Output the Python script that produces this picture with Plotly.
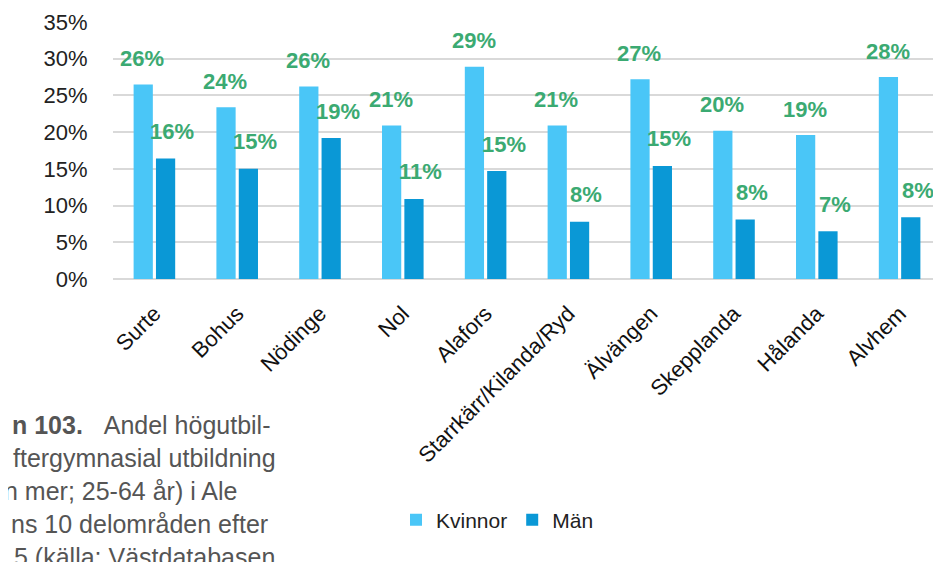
import plotly.graph_objects as go

categories = ["Surte", "Bohus", "Nödinge", "Nol", "Alafors", "Starrkärr/Kilanda/Ryd",
              "Älvängen", "Skepplanda", "Hålanda", "Alvhem"]
kvinnor = [0.265, 0.234, 0.262, 0.209, 0.289, 0.209, 0.272, 0.202, 0.196, 0.275]
man = [0.164, 0.150, 0.192, 0.109, 0.147, 0.078, 0.154, 0.081, 0.065, 0.084]
kvinnor_labels = ["26%", "24%", "26%", "21%", "29%", "21%", "27%", "20%", "19%", "28%"]
man_labels = ["16%", "15%", "19%", "11%", "15%", "8%", "15%", "8%", "7%", "8%"]
caption_lines = [
    "<b>n 103.</b>\u00a0\u00a0\u00a0Andel högutbil-",
    "ftergymnasial utbildning",
    "n mer; 25-64 år) i Ale",
    "ns 10 delområden efter",
    "5 (källa: Västdatabasen",
]

OFF = 8  # default page body margin
W, H = 941 - OFF, 562 - OFF
L, R, T, B = 113 - OFF, 0, 22 - OFF, 283
FONT = "Liberation Sans, Arial, sans-serif"
C_K = "#4AC6F7"
C_M = "#0A98D6"
C_LBL = "#3BAA72"

fig = go.Figure()
fig.add_trace(go.Bar(name="Kvinnor", x=categories, y=kvinnor, marker_color=C_K,
                     marker_line_width=0, hoverinfo="skip"))
fig.add_trace(go.Bar(name="Män", x=categories, y=man, marker_color=C_M,
                     marker_line_width=0, hoverinfo="skip"))

annotations = []
for c, v, t in zip(categories, kvinnor, kvinnor_labels):
    annotations.append(dict(x=c, y=v, text=t, showarrow=False, xshift=-12, yshift=26,
                            yanchor="middle", xanchor="center",
                            font=dict(family=FONT, size=22, color=C_LBL, weight="bold")))
for c, v, t in zip(categories, man, man_labels):
    annotations.append(dict(x=c, y=v, text=t, showarrow=False, xshift=18, yshift=27,
                            yanchor="middle", xanchor="center",
                            font=dict(family=FONT, size=22, color=C_LBL, weight="bold")))

pw = W - L - R
ph = H - T - B
caption_y = [425, 458, 491, 524, 557]
caption_x = [12, 13, 4, 11, 14]
for line, yy, xx in zip(caption_lines, caption_y, caption_x):
    fx = xx - OFF - 2
    fy = yy - OFF
    annotations.append(dict(xref="paper", yref="paper",
                            x=(fx - L) / pw, y=1 - (fy - T) / ph,
                            text=line, showarrow=False, xanchor="left", yanchor="middle",
                            font=dict(family=FONT, size=25, color="#555555")))

fig.update_layout(
    width=W, height=H,
    margin=dict(l=L, r=R, t=T, b=B),
    paper_bgcolor="white", plot_bgcolor="white",
    barmode="group", bargap=0.46, bargroupgap=0.14,
    font=dict(family=FONT, color="#222222"),
    showlegend=True,
    legend=dict(orientation="h", xref="container", yref="container",
                x=(396 - OFF) / W, y=1 - (520 - OFF) / H, xanchor="left", yanchor="middle",
                font=dict(family=FONT, size=21, color="#222222"),
                itemwidth=30, tracegroupgap=0, bgcolor="rgba(0,0,0,0)"),
    annotations=annotations,
)
fig.update_yaxes(range=[0, 0.35], dtick=0.05, tickformat=".0%",
                 showgrid=True, gridcolor="#D9D9D9", gridwidth=2,
                 zeroline=True, zerolinecolor="#D9D9D9", zerolinewidth=2,
                 showline=False, ticks="outside", ticklen=20, tickcolor="rgba(0,0,0,0)",
                 tickfont=dict(family=FONT, size=22, color="#222222"), fixedrange=True)
fig.update_xaxes(tickangle=-45, showline=False, showgrid=False,
                 ticks="outside", ticklen=12, tickcolor="rgba(0,0,0,0)",
                 tickfont=dict(family=FONT, size=22, color="#111111"), fixedrange=True)

fig.write_html("out.html", config={"displayModeBar": False})
